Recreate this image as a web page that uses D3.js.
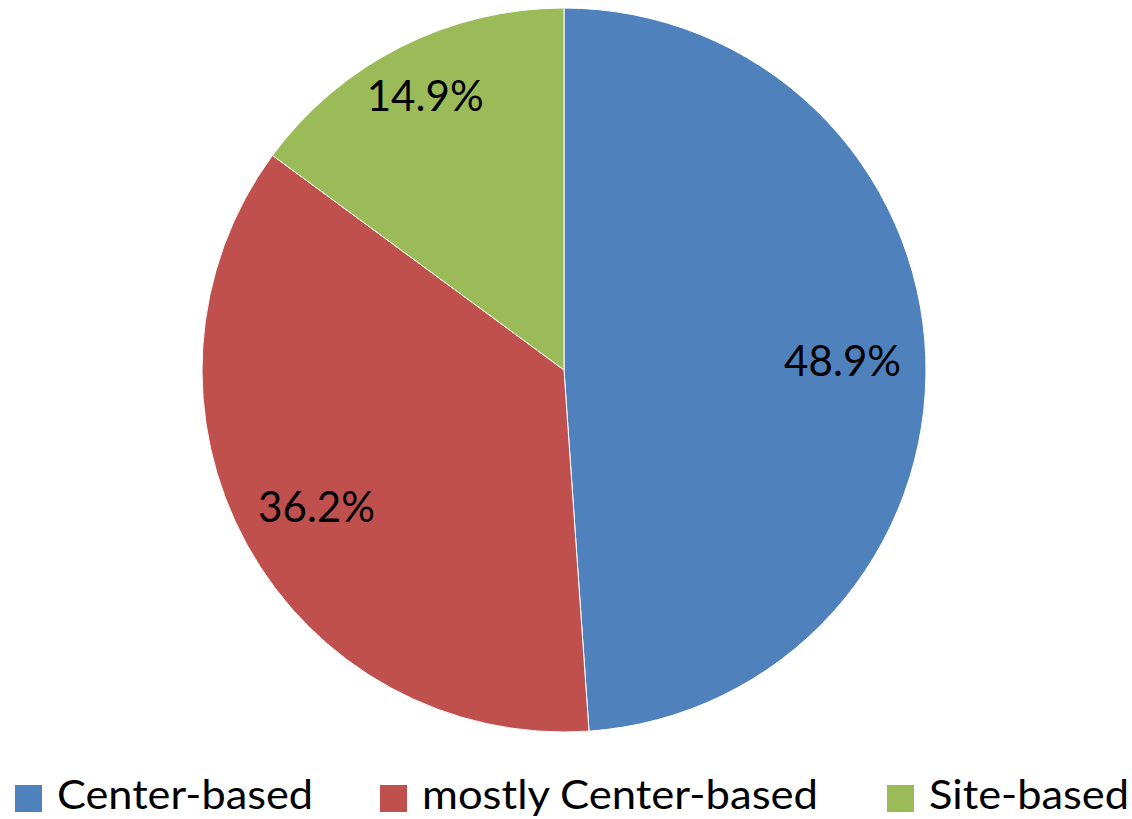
<!DOCTYPE html>
<html>
<head>
<meta charset="utf-8">
<script src="https://cdn.jsdelivr.net/npm/d3@7"></script>
<style>
  body { margin: 0; background: #fff; }
  svg text { font-family: Lato, "Open Sans", "Liberation Sans", sans-serif; fill: #000; }
</style>
</head>
<body>
<svg id="pie-chart"></svg>
<script>
const categories = ["Center-based", "mostly Center-based", "Site-based"];
const values = [48.9, 36.2, 14.9];
const labels = ["48.9%", "36.2%", "14.9%"];
const colors = ["#4F81BD", "#C0504D", "#9BBB59"];

// measured widths in the reference, used to stretch text to Calibri-like widths
const labelWidths = [117, 117, 117];
const labelRadii = [0.77, 0.78, 0.85];
const legendTextWidths = [256, 396, 200];
const legendX = [15, 380, 887];

const width = 1132;
const height = 819;
const cx = 564;
const cy = 370;
const radius = 362;

const svg = d3.select("#pie-chart")
  .attr("width", width)
  .attr("height", height);

const data = categories.map((c, i) => ({ name: c, value: values[i], label: labels[i], color: colors[i] }));

const pie = d3.pie()
  .sort(null)
  .value(d => d.value);

const arc = d3.arc()
  .innerRadius(0)
  .outerRadius(radius);

const labelArc = i => d3.arc()
  .innerRadius(radius * labelRadii[i])
  .outerRadius(radius * labelRadii[i]);

const g = svg.append("g")
  .attr("transform", `translate(${cx}, ${cy})`);

const slices = pie(data);

g.selectAll("path")
  .data(slices)
  .enter()
  .append("path")
  .attr("d", arc)
  .attr("fill", d => d.data.color)
  .attr("stroke", "#fff")
  .attr("stroke-width", 1);

g.selectAll("text")
  .data(slices)
  .enter()
  .append("text")
  .attr("transform", (d, i) => `translate(${labelArc(i).centroid(d)})`)
  .attr("text-anchor", "middle")
  .attr("dominant-baseline", "central")
  .attr("font-size", 42)
  .attr("textLength", (d, i) => labelWidths[i])
  .attr("lengthAdjust", "spacingAndGlyphs")
  .text(d => d.data.label);

// legend
const legend = svg.append("g")
  .selectAll("g")
  .data(data)
  .enter()
  .append("g")
  .attr("transform", (d, i) => `translate(${legendX[i]}, 785)`);

legend.append("rect")
  .attr("width", 27)
  .attr("height", 27)
  .attr("fill", d => d.color);

legend.append("text")
  .attr("x", 42)
  .attr("y", 24)
  .attr("font-size", 40)
  .attr("textLength", (d, i) => legendTextWidths[i])
  .attr("lengthAdjust", "spacingAndGlyphs")
  .text(d => d.name);
</script>
</body>
</html>
